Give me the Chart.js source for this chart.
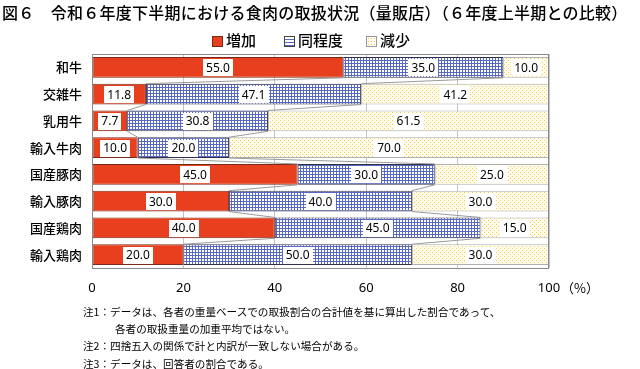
<!DOCTYPE html>
<html lang="ja">
<head>
<meta charset="utf-8">
<script src="https://cdn.jsdelivr.net/npm/chart.js@4"></script>
<style>
  html, body { margin: 0; padding: 0; background: #fff; }
  body { width: 640px; height: 369px; position: relative; overflow: hidden;
         font-family: "Noto Sans CJK JP", "Noto Sans", sans-serif; color: #000; }
  #chartBox { position: absolute; left: 0; top: 0; width: 640px; height: 369px; }
  .title { position: absolute; left: 2px; top: 2px; font-size: 16px; line-height: 20px; font-weight: 500;
           letter-spacing: 0.25px; white-space: nowrap; }
  .lg { position: absolute; top: 31px; font-size: 15px; line-height: 18px; font-weight: 500; white-space: nowrap; }
  .lg i { display: inline-block; width: 9px; height: 9px; border: 1px solid #444;
          vertical-align: -1px; margin-right: 3px; }
  .unit { position: absolute; left: 561px; top: 279px; font-size: 13px; line-height: 18px; }
  .notes { position: absolute; left: 83px; top: 303px; font-size: 10.6px; line-height: 17.2px; white-space: nowrap; }
</style>
</head>
<body>
<div id="chartBox"><canvas id="meatChart"></canvas></div>
<div class="title">図６　令和６年度下半期における食肉の取扱状況（量販店）（６年度上半期との比較）</div>
<div class="lg" style="left:212px"><i style="background:#e8401e;border-color:#7a2a1a"></i>増加</div>
<div class="lg" style="left:284px"><i style="background:repeating-linear-gradient(0deg,#5a6cc4 0 1px,#fff 1px 3px),#fff;"></i>同程度</div>
<div class="lg" style="left:366px"><i style="background:radial-gradient(#f0c94a 35%,#fffdf2 40%) 0 0/3px 3px;border-color:#999"></i>減少</div>
<div class="unit">（%）</div>
<div class="notes">注1：データは、各者の重量ベースでの取扱割合の合計値を基に算出した割合であって、<br>
<span style="padding-left:32px">各者の取扱重量の加重平均ではない。</span><br>
注2：四捨五入の関係で計と内訳が一致しない場合がある。<br>
注3：データは、回答者の割合である。</div>
<script>
(function () {
    var categories = ['和牛', '交雑牛', '乳用牛', '輸入牛肉', '国産豚肉', '輸入豚肉', '国産鶏肉', '輸入鶏肉'];
    var increase = [55.0, 11.8, 7.7, 10.0, 45.0, 30.0, 40.0, 20.0];
    var same = [35.0, 47.1, 30.8, 20.0, 30.0, 40.0, 45.0, 50.0];
    var decrease = [10.0, 41.2, 61.5, 70.0, 25.0, 30.0, 15.0, 30.0];
    var xTicks = [0, 20, 40, 60, 80, 100];

    var canvas = document.getElementById('meatChart');
    var ctx = canvas.getContext('2d');

    function gridPattern() {
        var c = document.createElement('canvas');
        c.width = 3; c.height = 3;
        var g = c.getContext('2d');
        g.fillStyle = '#ffffff';
        g.fillRect(0, 0, 3, 3);
        g.fillStyle = '#5668c0';
        g.fillRect(0, 0, 3, 1);
        g.fillRect(0, 0, 1, 3);
        return ctx.createPattern(c, 'repeat');
    }

    function dotPattern() {
        var c = document.createElement('canvas');
        c.width = 4; c.height = 4;
        var g = c.getContext('2d');
        g.fillStyle = '#fffcec';
        g.fillRect(0, 0, 4, 4);
        g.fillStyle = '#f1cc55';
        g.fillRect(0, 0, 1, 1);
        g.fillRect(2, 2, 1, 1);
        return ctx.createPattern(c, 'repeat');
    }

    // white boxes with the value in the middle of each segment
    var valueLabels = {
        id: 'valueLabels',
        afterDatasetsDraw: function (chart) {
            var c = chart.ctx;
            c.save();
            c.font = '12px "Noto Sans", sans-serif';
            c.textAlign = 'center';
            c.textBaseline = 'middle';
            chart.data.datasets.forEach(function (ds, di) {
                chart.getDatasetMeta(di).data.forEach(function (bar, i) {
                    var text = ds.data[i].toFixed(1);
                    var cx = (bar.x + bar.base) / 2;
                    var w = c.measureText(text).width + 6;
                    c.fillStyle = '#fff';
                    c.fillRect(Math.round(cx - w / 2), Math.round(bar.y - 8), Math.round(w), 17);
                    c.fillStyle = '#000';
                    c.fillText(text, cx, bar.y + 1);
                });
            });
            c.restore();
        }
    };

    // connector lines between bars and the plot frame
    var seriesLines = {
        id: 'seriesLines',
        afterDatasetsDraw: function (chart) {
            var c = chart.ctx;
            var a = chart.chartArea;
            c.save();
            c.strokeStyle = '#9a9a9a';
            c.lineWidth = 1;
            [0, 1].forEach(function (di) {
                var bars = chart.getDatasetMeta(di).data;
                for (var i = 0; i < bars.length - 1; i++) {
                    var b0 = bars[i], b1 = bars[i + 1];
                    c.beginPath();
                    c.moveTo(b0.x, b0.y + b0.height / 2);
                    c.lineTo(b1.x, b1.y - b1.height / 2);
                    c.stroke();
                }
            });
            c.strokeStyle = '#8a8a8a';
            c.strokeRect(a.left + 0.5, a.top + 0.5, a.right - a.left - 1, a.bottom - a.top);
            c.restore();
        }
    };

    new Chart(ctx, {
        type: 'bar',
        data: {
            labels: categories,
            datasets: [
                { label: '増加', data: increase, backgroundColor: '#e8401e', borderColor: '#7a2a1a', borderWidth: 1, borderSkipped: false },
                { label: '同程度', data: same, backgroundColor: gridPattern(), borderColor: '#30304a', borderWidth: 1, borderSkipped: false },
                { label: '減少', data: decrease, backgroundColor: dotPattern(), borderColor: '#b0b0b0', borderWidth: 1, borderSkipped: false }
            ]
        },
        options: {
            indexAxis: 'y',
            responsive: true,
            maintainAspectRatio: false,
            animation: false,
            datasets: { bar: { categoryPercentage: 1, barPercentage: 0.78 } },
            layout: { padding: { top: 54, right: 91, bottom: 61, left: 0 } },
            plugins: {
                legend: { display: false },
                tooltip: { enabled: false }
            },
            scales: {
                x: {
                    stacked: true,
                    min: 0,
                    max: 100,
                    afterBuildTicks: function (scale) {
                        scale.ticks = xTicks.map(function (v) { return { value: v }; });
                    },
                    afterFit: function (scale) { scale.height = 40; },
                    grid: { color: '#c4c4c4', drawTicks: false },
                    border: { display: false },
                    ticks: { padding: 12, color: '#000', font: { size: 13, family: '"Noto Sans", sans-serif' } }
                },
                y: {
                    stacked: true,
                    afterFit: function (scale) { scale.width = 92; },
                    grid: { display: false, drawTicks: false },
                    border: { display: false },
                    ticks: { padding: 10, color: '#000', font: { size: 13, weight: '500', family: '"Noto Sans CJK JP", sans-serif' } }
                }
            }
        },
        plugins: [seriesLines, valueLabels]
    });
})();
</script>
</body>
</html>
